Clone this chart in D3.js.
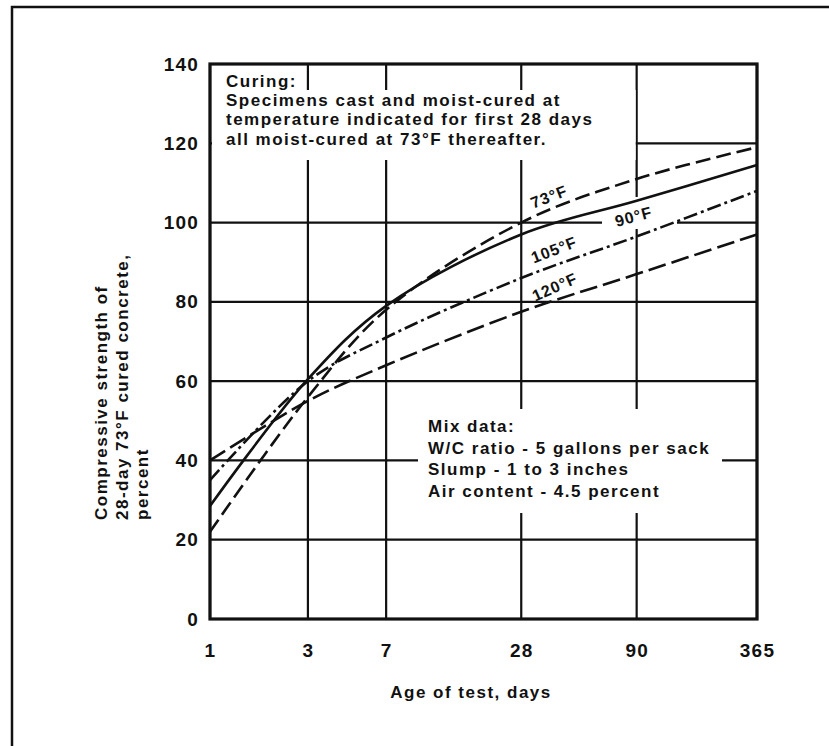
<!DOCTYPE html>
<html>
<head>
<meta charset="utf-8">
<script src="https://cdn.jsdelivr.net/npm/d3@7"></script>
<style>
  body { margin: 0; background: #fff; }
  svg text { font-family: "Liberation Sans", Arial, sans-serif; font-weight: bold; fill: #111; }
</style>
</head>
<body>
<svg id="chart"></svg>
<script>
// Data
var days = [1, 3, 7, 28, 90, 365];
var strengthTicks = [0, 20, 40, 60, 80, 100, 120, 140];
var temps = ['73°F', '90°F', '105°F', '120°F'];
var s73 = [22, 56, 78, 100, 111, 119];
var s90 = [28.5, 60.5, 79, 97, 105.5, 114.5];
var s105 = [35, 60, 71, 86, 96.5, 108];
var s120 = [40, 55, 64, 77.5, 87, 97];
var curingNote = ['Curing:', 'Specimens cast and moist-cured at',
  'temperature indicated for first 28 days', 'all moist-cured at 73°F thereafter.'];
var mixNote = ['Mix data:', 'W/C ratio - 5 gallons per sack',
  'Slump - 1 to 3 inches', 'Air content - 4.5 percent'];
var yTitle = ['Compressive strength of', '28-day 73°F cured concrete,', 'percent'];

var chartWidth = 829, chartHeight = 746;
var plotLeft = 210, plotRight = 757, plotTop = 64, plotBottom = 619;
var plotW = plotRight - plotLeft;

var svg = d3.select('#chart')
  .attr('width', chartWidth)
  .attr('height', chartHeight)
  .attr('viewBox', '0 0 ' + chartWidth + ' ' + chartHeight);

svg.append('rect').attr('width', chartWidth).attr('height', chartHeight).attr('fill', '#fff');

// outer frame of the scanned figure
svg.append('rect')
  .attr('x', 12).attr('y', 7)
  .attr('width', 840).attr('height', 760)
  .attr('fill', 'none').attr('stroke', '#111').attr('stroke-width', 2.5);

// x axis is a (slightly irregular) log axis of age
var xStops = [0, 0.179, 0.322, 0.569, 0.78, 1];
var x = d3.scaleLinear()
  .domain(days.map(function (d) { return Math.log10(d); }))
  .range(xStops.map(function (f) { return plotLeft + f * plotW; }));
function xd(d) { return x(Math.log10(d)); }

var y = d3.scaleLinear().domain([0, 140]).range([plotBottom, plotTop]);

// grid
var grid = svg.append('g').attr('stroke', '#111').attr('stroke-width', 2.2);
grid.selectAll('line.h').data(strengthTicks).enter().append('line')
  .attr('x1', plotLeft).attr('x2', plotRight)
  .attr('y1', function (d) { return y(d); })
  .attr('y2', function (d) { return y(d); });
grid.selectAll('line.v').data(days).enter().append('line')
  .attr('x1', function (d) { return xd(d); })
  .attr('x2', function (d) { return xd(d); })
  .attr('y1', plotTop).attr('y2', plotBottom);

// white areas behind the notes
var masks = svg.append('g').attr('fill', '#fff');
masks.append('rect').attr('x', plotLeft + 2).attr('y', 90).attr('width', xd(90) - plotLeft - 3).attr('height', 70);
masks.append('rect').attr('x', 418).attr('y', 409).attr('width', 304).attr('height', 104);
masks.append('rect').attr('x', 602).attr('y', 197).attr('width', 75).attr('height', 32);

// plot frame
svg.append('rect')
  .attr('x', plotLeft).attr('y', plotTop)
  .attr('width', plotW).attr('height', plotBottom - plotTop)
  .attr('fill', 'none').attr('stroke', '#111').attr('stroke-width', 3.2);

// curves
var series = [
  { name: temps[0], values: s73, dash: '15,6' },
  { name: temps[1], values: s90, dash: null },
  { name: temps[2], values: s105, dash: '14,4,3,4' },
  { name: temps[3], values: s120, dash: '18,6' }
];
var line = d3.line()
  .x(function (d, i) { return xd(days[i]); })
  .y(function (d) { return y(d); })
  .curve(d3.curveCatmullRom.alpha(0.5));

svg.selectAll('path.curve').data(series).enter().append('path')
  .attr('class', 'curve')
  .attr('d', function (s) { return line(s.values); })
  .attr('fill', 'none')
  .attr('stroke', '#111')
  .attr('stroke-width', 2.6)
  .attr('stroke-dasharray', function (s) { return s.dash; });

// curve labels
var labelPos = [
  { x: 551, y: 202, r: -21 },
  { x: 635, y: 222, r: -15 },
  { x: 556, y: 255, r: -21 },
  { x: 557, y: 292, r: -24 }
];
svg.selectAll('text.lab').data(temps).enter().append('text')
  .attr('class', 'lab')
  .attr('text-anchor', 'middle')
  .attr('transform', function (d, i) {
    return 'translate(' + labelPos[i].x + ',' + labelPos[i].y + ') rotate(' + labelPos[i].r + ')';
  })
  .style('font-size', '16px')
  .style('letter-spacing', '1px')
  .text(function (d) { return d; });

// axes labels
var yAxis = d3.axisLeft(y).tickValues(strengthTicks).tickSize(0).tickPadding(11);
var gy = svg.append('g').attr('transform', 'translate(' + plotLeft + ',0)').call(yAxis);
gy.select('.domain').remove();
gy.selectAll('text').attr('font-family', null).style('font-size', '19px').style('letter-spacing', '1.2px');

var xAxis = d3.axisBottom(x).tickValues(days.map(function (d) { return Math.log10(d); }))
  .tickFormat(function (d, i) { return days[i]; })
  .tickSize(0).tickPadding(25);
var gx = svg.append('g').attr('transform', 'translate(0,' + plotBottom + ')').call(xAxis);
gx.select('.domain').remove();
gx.selectAll('text').attr('font-family', null).style('font-size', '19px').style('letter-spacing', '1.2px');

// axis titles
svg.append('text')
  .attr('x', 471).attr('y', 698)
  .attr('text-anchor', 'middle')
  .style('font-size', '17px').style('letter-spacing', '1.5px')
  .text('Age of test, days');

var yt = svg.append('text')
  .attr('transform', 'translate(107,520) rotate(-90)')
  .style('font-size', '17px').style('letter-spacing', '1.5px');
yt.selectAll('tspan').data(yTitle).enter().append('tspan')
  .attr('x', 0)
  .attr('y', function (d, i) { return i * 20.5; })
  .text(function (d) { return d; });

// notes
function note(lines, x0, y0, step) {
  var t = svg.append('text').style('font-size', '17px').style('letter-spacing', '1.5px');
  t.selectAll('tspan').data(lines).enter().append('tspan')
    .attr('x', x0)
    .attr('y', function (d, i) { return y0 + i * step; })
    .text(function (d) { return d; });
}
note(curingNote, 226, 87, 19.2);
note(mixNote, 428, 432, 21.7);
</script>
</body>
</html>
